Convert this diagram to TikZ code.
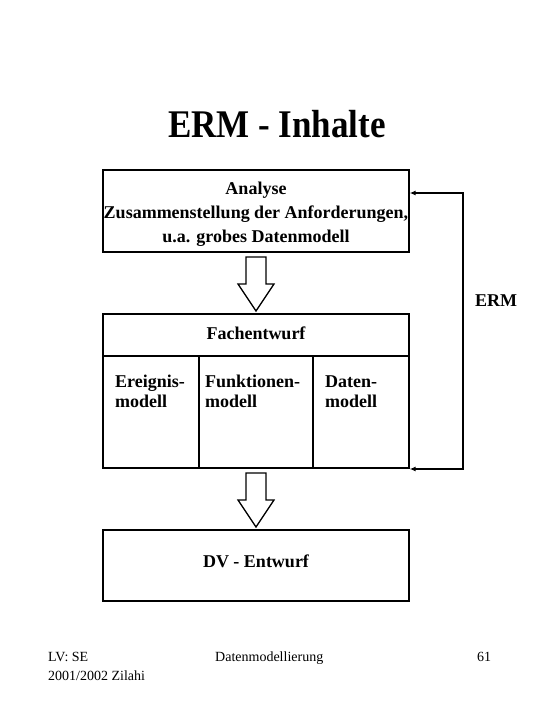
\documentclass[tikz,border=0pt]{standalone}
\usepackage{fontspec}
\setmainfont{Liberation Serif}
\usetikzlibrary{arrows.meta}
\tikzset{
  box/.style={draw, line width=1.3pt, rectangle, inner sep=0pt, minimum width=306pt},
  bodytxt/.style={font=\bfseries\fontsize{18}{24}\selectfont, inner sep=0pt},
  coltxt/.style={font=\bfseries\fontsize{18}{20}\selectfont, inner sep=0pt, align=left, anchor=base west},
  foot/.style={font=\fontsize{14}{19}\selectfont, inner sep=0pt, align=left},
  blockarr/.pic={\draw[line width=1.3pt, fill=white] (-10,0) -- (10,0) -- (10,27) -- (18,27) -- (0,54) -- (-18,27) -- (-10,27) -- cycle;},
  fb/.style={line width=1.3pt, {Latex[length=6pt,width=5pt]}-{Latex[length=6pt,width=5pt]}}
}
\begin{document}
\begin{tikzpicture}[x=1pt,y=-1pt]
\useasboundingbox (0,0) rectangle (540,720);
\node[font=\bfseries\fontsize{35}{40}\selectfont, inner sep=0pt, anchor=base, yscale=1.12, transform shape] (title) at (277,137) {ERM - Inhalte};
\node[box, minimum height=82pt] (analyse) at (256,211) {};
\node[bodytxt, align=center] (analysetxt) at (256,214) {Analyse\\Zusammenstellung der Anforderungen,\\u.a. grobes Datenmodell};
\pic at (256,257) {blockarr};
\node[box, minimum height=154pt] (fach) at (256,391) {};
\node[bodytxt] (fachtxt) at (256,333) {Fachentwurf};
\coordinate (hd) at (0,356);
\coordinate (v1) at (199,0);
\coordinate (v2) at (313,0);
\draw[line width=1.3pt] (fach.west |- hd) -- (fach.east |- hd);
\draw[line width=1.3pt] (v1 |- hd) -- (v1 |- fach.south);
\draw[line width=1.3pt] (v2 |- hd) -- (v2 |- fach.south);
\node[coltxt] (ereig) at (115,407) {Ereignis-\\modell};
\node[coltxt] (funk) at (205,407) {Funktionen-\\modell};
\node[coltxt] (daten) at (325,407) {Daten-\\modell};
\pic at (256,473) {blockarr};
\node[box, minimum height=71pt] (dv) at (256,565.5) {};
\node[bodytxt] (dvtxt) at (256,561) {DV - Entwurf};
\coordinate (c1) at (463,193);
\coordinate (c2) at (463,469);
\draw[fb] (analyse.east |- c1) -- (c1) -- (c2) -- (fach.east |- c2);
\node[bodytxt] (erm) at (496,301) {ERM};
\node[foot, anchor=base west] (lv) at (48,680) {LV: SE\\2001/2002 Zilahi};
\node[foot, anchor=base west] (dm) at (215,661) {Datenmodellierung};
\node[foot, anchor=base west] (num) at (477,661) {61};
\end{tikzpicture}
\end{document}
